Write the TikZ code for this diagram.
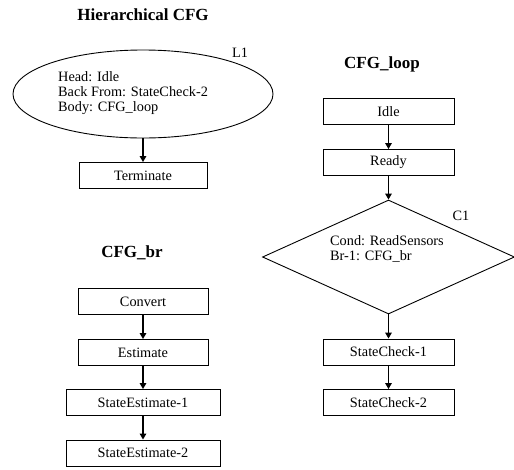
\documentclass[tikz,border=0pt]{standalone}
\usepackage{fontspec}
\setmainfont{Liberation Serif}
\usetikzlibrary{shapes.geometric,arrows.meta}
\begin{document}
\begin{tikzpicture}[x=1pt,y=-1pt,
  box/.style={draw,line width=0.9pt,minimum height=26pt,inner sep=0pt,font=\fontsize{14.3}{15}\selectfont},
  ttl/.style={font=\fontsize{17}{18}\selectfont\bfseries,inner sep=0pt},
  lbl/.style={font=\fontsize{14.3}{15}\selectfont,inner sep=0pt},
  arr/.style={line width=1.5pt,-{Triangle[length=6pt,width=6.5pt]}}]
\useasboundingbox (0,0) rectangle (514,469);
% Hierarchical CFG
\node[ttl] (t1) at (143,15) {Hierarchical CFG};
\node[draw,ellipse,line width=0.9pt,minimum width=260pt,minimum height=88pt,inner sep=0pt] (L1) at (143,94) {};
\node[lbl,anchor=west,align=left] (L1txt) at (58,93) {Head: Idle\\Back From: StateCheck-2\\Body: CFG\_loop};
\node[lbl] (L1lab) at (240,53) {L1};
\node[box,minimum width=128pt] (term) at (143,175.5) {Terminate};
\draw[arr] (L1.south) -- (term.north);
% CFG_loop
\node[ttl] (t2) at (382,64) {CFG\_loop};
\node[box,minimum width=131pt] (idle) at (388.5,111.5) {Idle};
\node[box,minimum width=131pt] (ready) at (388.5,162.5) {Ready};
\node[draw,diamond,line width=0.9pt,minimum width=252pt,minimum height=114pt,inner sep=0pt] (C1) at (388.5,257) {};
\node[lbl,anchor=west,align=left] (C1txt) at (330,249) {Cond: ReadSensors\\Br-1: CFG\_br};
\node[lbl] (C1lab) at (461,216) {C1};
\node[box,minimum width=131pt] (sc1) at (388.5,352) {StateCheck-1};
\node[box,minimum width=131pt] (sc2) at (388.5,402.5) {StateCheck-2};
\draw[arr] (idle.south) -- (ready.north);
\draw[arr] (ready.south) -- (C1.north);
\draw[arr] (C1.south) -- (sc1.north);
\draw[arr] (sc1.south) -- (sc2.north);
% CFG_br
\node[ttl] (t3) at (132,253) {CFG\_br};
\node[box,minimum width=130pt] (conv) at (143,301.5) {Convert};
\node[box,minimum width=130pt] (est) at (143,352.5) {Estimate};
\node[box,minimum width=154pt] (se1) at (143,402.5) {StateEstimate-1};
\node[box,minimum width=154pt] (se2) at (143,453) {StateEstimate-2};
\draw[arr] (conv.south) -- (est.north);
\draw[arr] (est.south) -- (se1.north);
\draw[arr] (se1.south) -- (se2.north);
\end{tikzpicture}
\end{document}
